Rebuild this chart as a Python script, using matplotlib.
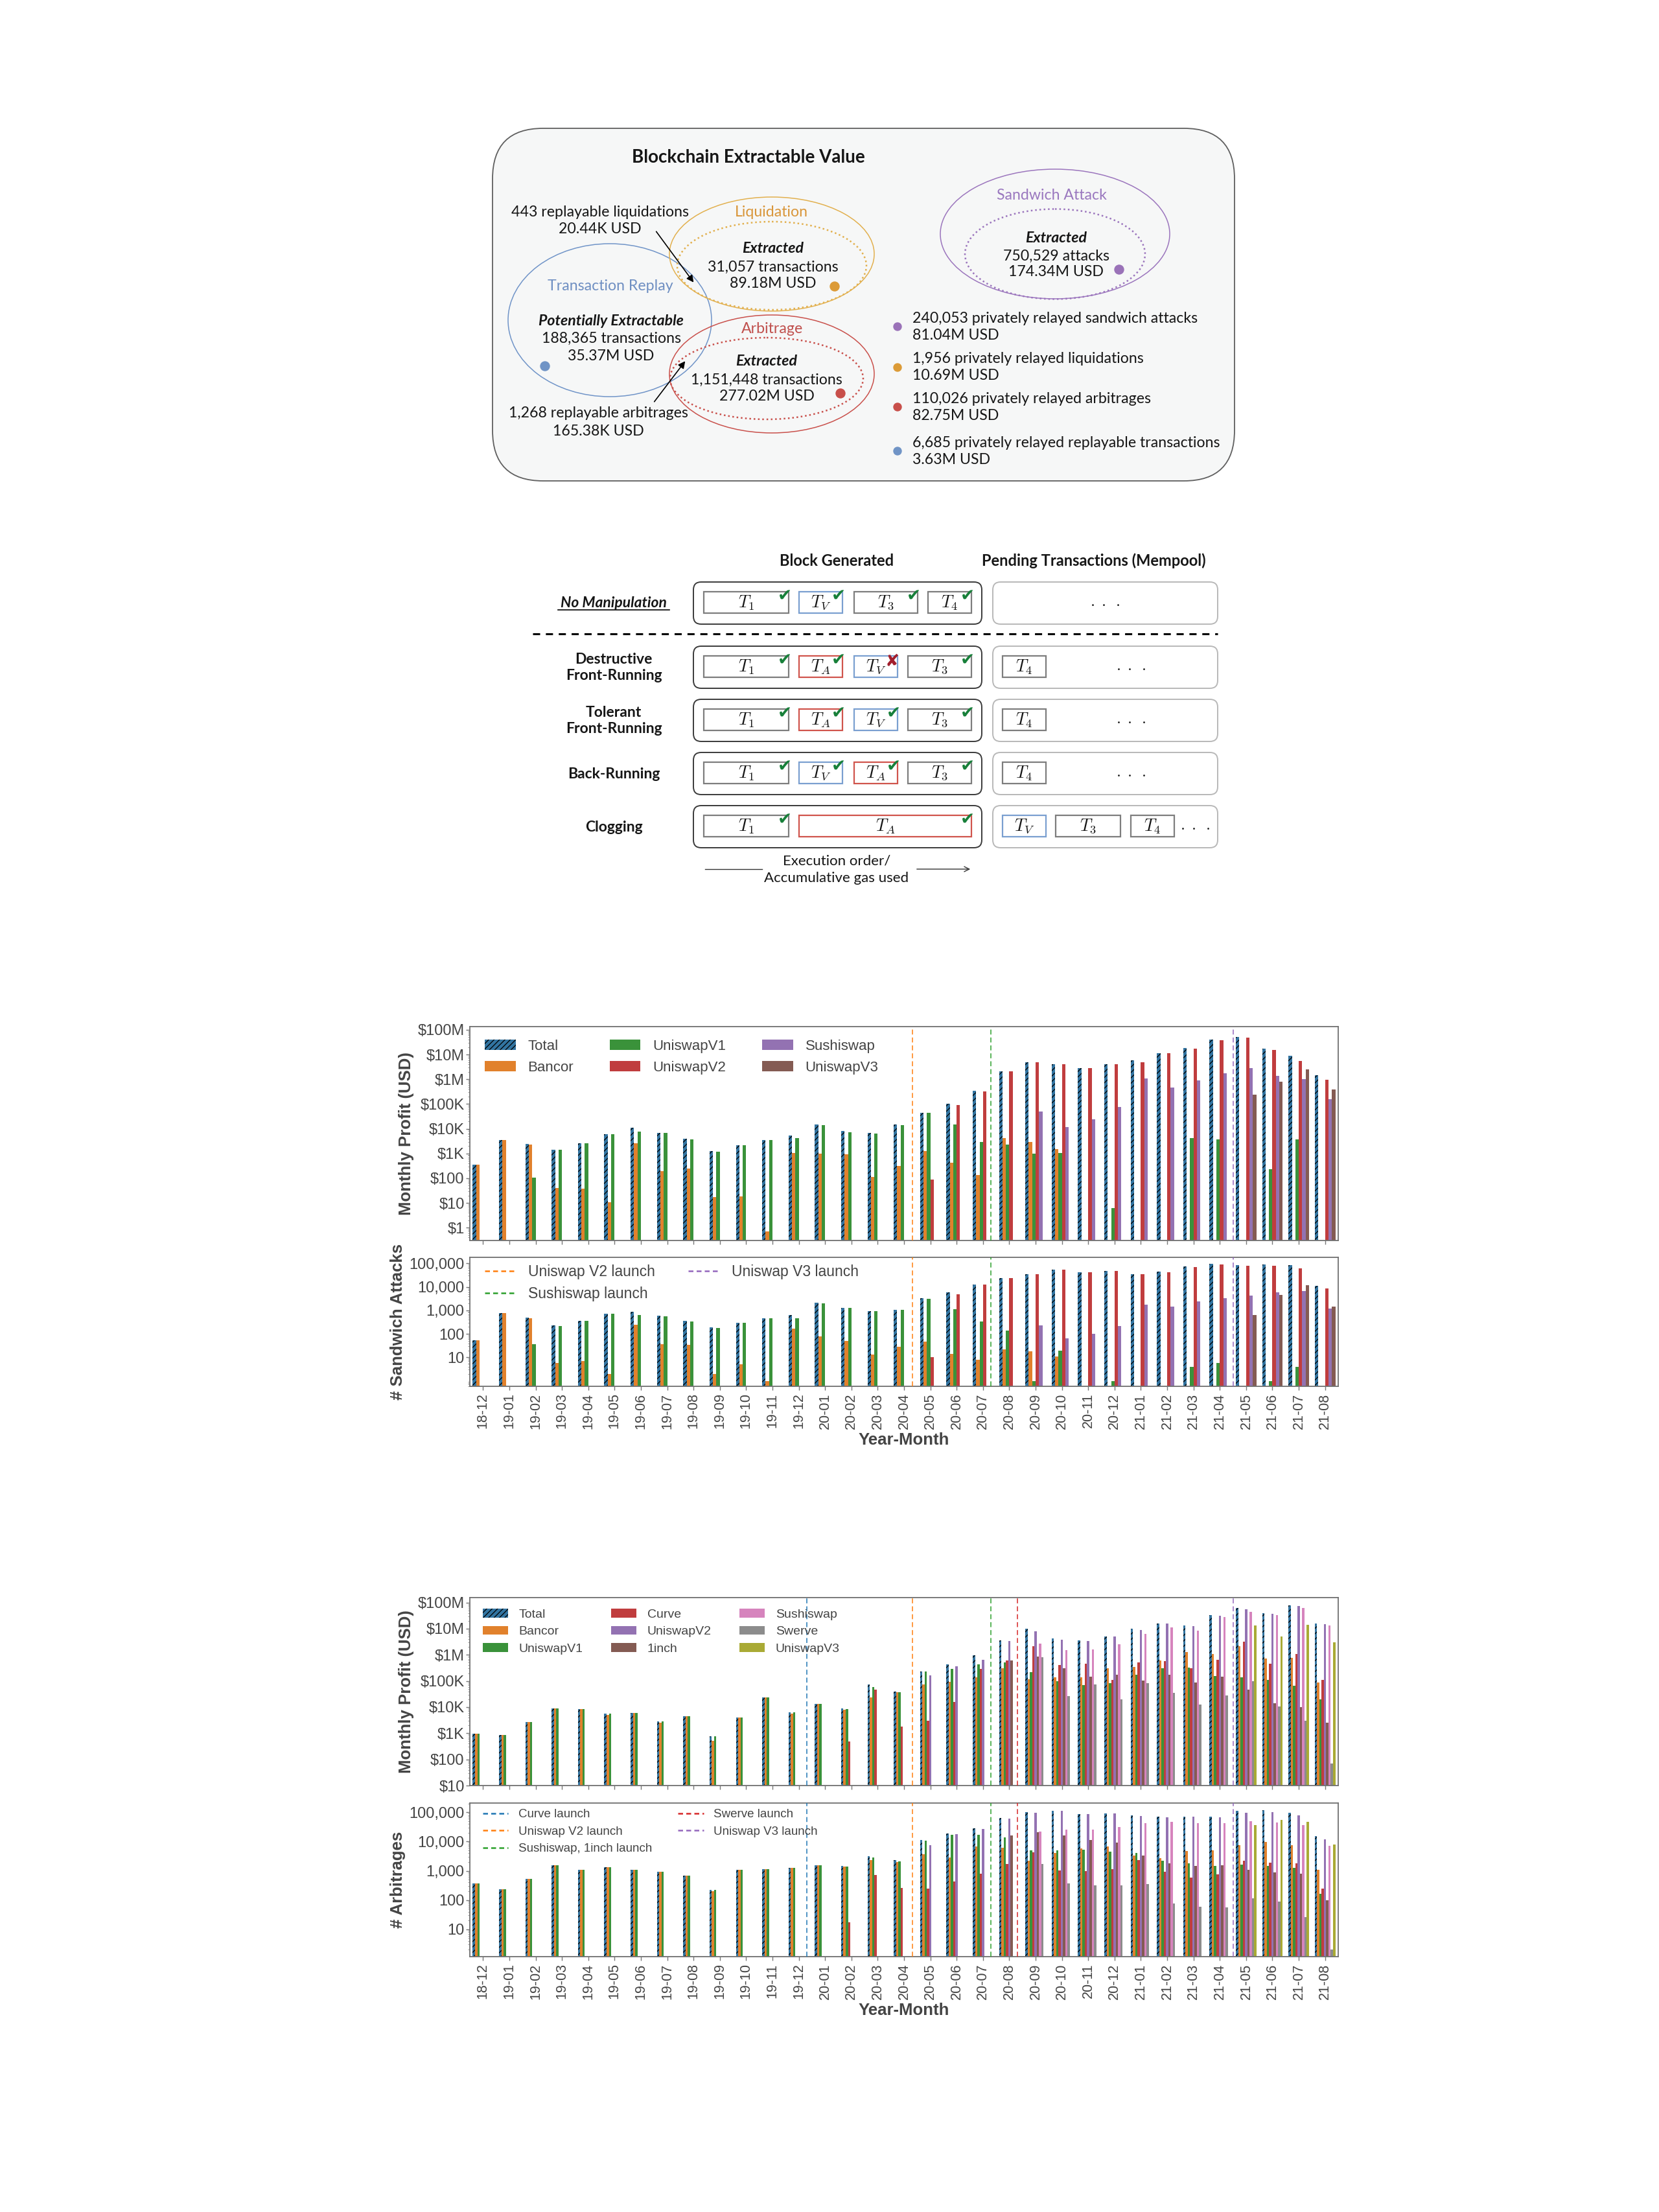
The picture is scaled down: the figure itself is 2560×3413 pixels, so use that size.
import numpy as np
import matplotlib.pyplot as plt
from matplotlib.patches import Ellipse, FancyBboxPatch, Rectangle, Circle
from matplotlib.lines import Line2D
from matplotlib.ticker import LogLocator, NullFormatter

plt.rcParams['font.family'] = 'Liberation Sans'
plt.rcParams['mathtext.fontset'] = 'cm'
plt.rcParams['hatch.linewidth'] = 0.9

nan = np.nan

# ---------------- data ----------------
months = ['18-12', '19-01', '19-02', '19-03', '19-04', '19-05', '19-06', '19-07', '19-08',
          '19-09', '19-10', '19-11', '19-12', '20-01', '20-02', '20-03', '20-04', '20-05',
          '20-06', '20-07', '20-08', '20-09', '20-10', '20-11', '20-12', '21-01', '21-02',
          '21-03', '21-04', '21-05', '21-06', '21-07', '21-08']

# sandwich attacks: monthly profit (USD)
sw_names = ['Total', 'Bancor', 'UniswapV1', 'UniswapV2', 'Sushiswap', 'UniswapV3']
sw_profit_total = [350, 3600, 2400, 1450, 2600, 5900, 10700, 6900, 3900, 1230, 2220, 3570, 5250,
                   14700, 8200, 6700, 14700, 43700, 105000, 340000, 2.14e6, 4.8e6, 4.2e6, 2.9e6,
                   4.2e6, 6.0e6, 11.7e6, 18.7e6, 40e6, 52e6, 17.5e6, 9.1e6, 1.48e6]
sw_profit_bancor = [350, 3600, 2300, 40, 37, 11, 2600, 195, 245, 17, 18, 0.7, 1030, 990, 950, 113,
                    320, 1260, 425, 133, 4150, 3000, 1500] + [nan] * 10
sw_profit_v1 = [nan, nan, 107, 1400, 2600, 5900, 7900, 6700, 3650, 1190, 2150, 3500, 4200, 13800,
                7200, 6600, 14200, 43000, 14700, 3000, 2300, 970, 1070, nan, 6.1, nan, nan, 4300,
                3650, nan, 228, 3650, nan]
sw_profit_v2 = [nan] * 17 + [89, 90000, 330000, 2.1e6, 4.8e6, 4.2e6, 2.9e6, 4.1e6, 5.0e6, 11.1e6,
                             17.7e6, 37e6, 49e6, 15e6, 5.6e6, 930000]
sw_profit_sushi = [nan] * 21 + [49000, 11500, 24000, 78000, 1.07e6, 470000, 910000, 1.8e6, 2.9e6,
                                1.35e6, 1.0e6, 160000]
sw_profit_v3 = [nan] * 29 + [245000, 790000, 2.5e6, 380000]

# sandwich attacks: count
sw_count_total = [53, 750, 500, 235, 365, 740, 890, 580, 370, 185, 295, 470, 620, 2180, 1320, 950,
                  1070, 3250, 6000, 12600, 23400, 34000, 55000, 41500, 49000, 35500, 44000, 72000,
                  93000, 85000, 89000, 82000, 11400]
sw_count_bancor = [53, 750, 450, 6, 7, 2, 240, 37, 34, 2, 5, 1, 163, 78, 49, 13, 28, 48, 14.5, 8,
                   22.5, 18, 11] + [nan] * 10
sw_count_v1 = [nan, nan, 36, 220, 355, 740, 650, 545, 340, 180, 290, 470, 450, 2050, 1280, 950,
               1030, 3050, 1150, 330, 140, 1, 20, nan, 1, nan, nan, 4, 6, nan, 1, 4, nan]
sw_count_v2 = [nan] * 17 + [10, 4900, 12300, 23400, 34000, 55000, 41500, 48000, 34000, 43000,
                            69000, 90000, 80000, 80000, 63000, 8700]
sw_count_sushi = [nan] * 21 + [230, 66, 100, 210, 1800, 1420, 2350, 3250, 4200, 5800, 6600, 1200]
sw_count_v3 = [nan] * 29 + [620, 4600, 11800, 1480]

sw_launch_x = [16.31, 19.30, 28.51]
sw_launch_names = ['Uniswap V2 launch', 'Sushiswap launch', 'Uniswap V3 launch']

# arbitrages: monthly profit (USD)
arb_names = ['Total', 'Bancor', 'UniswapV1', 'Curve', 'UniswapV2', '1inch', 'Sushiswap', 'Swerve',
             'UniswapV3']
arb_profit_total = [940, 850, 2750, 8700, 8200, 5500, 5900, 2900, 4400, 760, 4000, 24000, 6400,
                    13500, 8900, 72000, 39000, 230000, 440000, 960000, 3.6e6, 9.8e6, 4.2e6, 3.5e6,
                    5.0e6, 9.8e6, 16e6, 13e6, 33e6, 61e6, 39e6, 76e6, 16e6]
arb_profit_bancor = [940, 850, 2750, 8700, 8200, 4900, 5900, 2500, 4400, 500, 4000, 24000, 5600,
                     13500, 7900, 24000, 37000, 73000, 91000, 140000, 310000, 117000, 140000,
                     135000, 300000, 350000, 600000, 1.3e6, 1.05e6, 2.1e6, 730000, 760000, 90000]
arb_profit_v1 = [940, 850, 2750, 8700, 8200, 5500, 5900, 2900, 4400, 760, 4000, 24000, 6400,
                 13500, 8400, 58000, 38000, 225000, 290000, 440000, 520000, 220000, 100000, 71000,
                 82000, 175000, 310000, 320000, 155000, 140000, 112000, 66000, 20000]
arb_profit_curve = [nan] * 14 + [480, 46000, 1800, 3000, 16000, 290000, 620000, 2.1e6, 410000,
                                 470000, 112000, 510000, 570000, 310000, 630000, 3.2e6, 460000,
                                 1.07e6, 110000]
arb_profit_univ2 = [nan] * 17 + [160000, 370000, 660000, 3.3e6, 7.8e6, 3.8e6, 3.3e6, 5.0e6, 8.9e6,
                                 15.5e6, 12.3e6, 32e6, 55e6, 37e6, 72e6, 15e6]
arb_profit_1inch = [nan] * 20 + [620000, 870000, 310000, 150000, 170000, 102000, 170000, 87000,
                                 148000, 47000, 14000, 9800, 2600]
arb_profit_sushi = [nan] * 21 + [2.7e6, 1.5e6, 1.6e6, 2.6e6, 6.3e6, 11.2e6, 8.3e6, 27.5e6, 45e6,
                                 34e6, 63e6, 13e6]
arb_profit_swerve = [nan] * 21 + [820000, 27000, 74000, 20000, 83000, 35000, 12600, 27500, 100000,
                                  10700, 3000, 68]
arb_profit_v3 = [nan] * 29 + [13.5e6, 5.1e6, 14e6, 3e6]

# arbitrages: count
arb_count_total = [365, 228, 540, 1510, 1080, 1350, 1060, 910, 700, 220, 1060, 1150, 1280, 1580,
                   1470, 3080, 2300, 11200, 19300, 29000, 63000, 100000, 115000, 89000, 91000,
                   77000, 71000, 72000, 71000, 110000, 120000, 98000, 15500]
arb_count_bancor = [365, 228, 540, 1510, 1080, 1350, 1060, 910, 700, 200, 1060, 1150, 1280, 1580,
                    1400, 2330, 1960, 3700, 2900, 6900, 6100, 2240, 4000, 5900, 6900, 3300, 2700,
                    4700, 5000, 7400, 9500, 7600, 1070]
arb_count_v1 = [365, 228, 540, 1510, 1080, 1350, 1060, 910, 700, 220, 1060, 1150, 1280, 1580,
                1420, 2800, 2100, 10900, 17000, 17000, 13800, 5100, 5000, 5200, 4500, 4100, 2200,
                1780, 1450, 1660, 1480, 1290, 160]
arb_count_curve = [nan] * 14 + [17, 720, 260, 245, 425, 800, 1740, 4300, 1030, 980, 1140, 2300,
                                910, 600, 740, 2190, 1900, 1780, 250]
arb_count_univ2 = [nan] * 17 + [7700, 17500, 27000, 60000, 97000, 110000, 85000, 91000, 74000,
                                69000, 71000, 68000, 98000, 102000, 78000, 12000]
arb_count_1inch = [nan] * 20 + [16300, 21000, 16200, 11500, 9100, 3300, 1780, 1450, 1510, 1100,
                                870, 780, 100]
arb_count_sushi = [nan] * 21 + [22000, 26000, 25000, 31000, 43000, 47000, 42000, 42000, 49000,
                                45000, 37000, 7200]
arb_count_swerve = [nan] * 21 + [1700, 370, 320, 320, 360, 77, 59, 56, 117, 88, 26, 2]
arb_count_v3 = [nan] * 29 + [37000, 54000, 47000, 7800]

arb_launch_x = [12.30, 16.31, 19.30, 20.32, 28.51]
arb_launch_names = ['Curve launch', 'Uniswap V2 launch', 'Sushiswap, 1inch launch',
                    'Swerve launch', 'Uniswap V3 launch']

# ---------------- figure ----------------
fig = plt.figure(figsize=(25.6, 34.13), dpi=100)
W, H = 2560, 3413

bg = fig.add_axes([0, 0, 1, 1])
bg.set_xlim(0, W)
bg.set_ylim(H, 0)
bg.axis('off')

DIA = 'Lato'
INK = '#161616'
FS = 16.7


def say(x, y, s, size=FS, color=INK, weight='normal', style='normal', family=DIA, ha='center'):
    bg.text(x, y, s, fontsize=size, color=color, fontweight=weight, fontstyle=style,
            family=family, ha=ha, va='center')


# --- panel 1: blockchain extractable value ---
bg.add_patch(FancyBboxPatch((760, 198), 1145, 544, boxstyle='round,pad=0,rounding_size=78',
                            facecolor='#f6f7f7', edgecolor='#5f5f5f', lw=1.3))
say(1155, 243, 'Blockchain Extractable Value', size=20, weight='bold')

C_LIQ, C_REP, C_ARB, C_SW = '#e2b04e', '#7094c8', '#c9504b', '#9b75bd'
for cx, cy, w, h, c, ls in [(941, 494, 314, 236, C_REP, '-'),
                            (1191, 392, 316, 176, C_LIQ, '-'),
                            (1191, 410, 292, 136, C_LIQ, ':'),
                            (1191, 577, 316, 182, C_ARB, '-'),
                            (1183, 584, 298, 126, C_ARB, ':'),
                            (1628, 361, 354, 200, C_SW, '-'),
                            (1628, 392, 278, 139, C_SW, ':')]:
    bg.add_patch(Ellipse((cx, cy), w, h, fill=False, edgecolor=c, ls=ls,
                         lw=1.1 if ls == '-' else 1.8))

say(926, 327, '443 replayable liquidations')
say(926, 353, '20.44K USD')
say(1190, 327, 'Liquidation', color='#d9963a')
say(1193, 384, 'Extracted', weight='bold', style='italic')
say(1193, 412, '31,057 transactions')
say(1193, 438, '89.18M USD')
say(942, 442, 'Transaction Replay', color='#6f8fc2')
say(943, 495, 'Potentially Extractable', weight='bold', style='italic')
say(943, 522, '188,365 transactions')
say(943, 549, '35.37M USD')
say(1192, 507, 'Arbitrage', color='#c0504d')
say(1183, 557, 'Extracted', weight='bold', style='italic')
say(1183, 586, '1,151,448 transactions')
say(1183, 612, '277.02M USD')
say(923, 638, '1,268 replayable arbitrages')
say(923, 665, '165.38K USD')
say(1623, 301, 'Sandwich Attack', color='#9a78bf')
say(1630, 367, 'Extracted', weight='bold', style='italic')
say(1630, 395, '750,529 attacks')
say(1630, 420, '174.34M USD')

bg.annotate('', xy=(1072, 438), xytext=(1011, 355),
            arrowprops=dict(arrowstyle='-|>', color='black', lw=1.2, mutation_scale=16))
bg.annotate('', xy=(1059, 555), xytext=(1008, 622),
            arrowprops=dict(arrowstyle='-|>', color='black', lw=1.2, mutation_scale=16))

D_ORA, D_BLU, D_RED, D_PUR = '#dc9b37', '#7094c6', '#c84f4a', '#9a72b8'
for x, y, c in [(1288, 442, D_ORA), (841, 565, D_BLU), (1297, 607, D_RED), (1727, 416, D_PUR)]:
    bg.add_patch(Circle((x, y), 7, color=c))

notes = [('240,053 privately relayed sandwich attacks', '81.04M USD', 491, D_PUR),
         ('1,956 privately relayed liquidations', '10.69M USD', 554, D_ORA),
         ('110,026 privately relayed arbitrages', '82.75M USD', 615, D_RED),
         ('6,685 privately relayed replayable transactions', '3.63M USD', 683, D_BLU)]
for l1, l2, y, c in notes:
    say(1408, y, l1, ha='left')
    say(1408, y + 26, l2, ha='left')
    bg.add_patch(Circle((1385, y + 13), 6, color=c))

# --- panel 2: transaction ordering ---
say(1291, 865, 'Block Generated', size=17, weight='bold')
say(1688, 865, 'Pending Transactions (Mempool)', size=17, weight='bold')

row_tops = [898, 997, 1079, 1161, 1243]
row_names = ['No Manipulation', 'Destructive\nFront-Running', 'Tolerant\nFront-Running',
             'Back-Running', 'Clogging']
EDGE = {'k': '#7d7d7d', 'b': '#7a9fd0', 'r': '#d0544c'}
blocks = [
    [('1', 1086, 1217, 'k', 1), ('V', 1233, 1300, 'b', 1), ('3', 1318, 1416, 'k', 1), ('4', 1432, 1499, 'k', 1)],
    [('1', 1086, 1217, 'k', 1), ('A', 1233, 1300, 'r', 1), ('V', 1318, 1385, 'b', 0), ('3', 1401, 1499, 'k', 1)],
    [('1', 1086, 1217, 'k', 1), ('A', 1233, 1300, 'r', 1), ('V', 1318, 1385, 'b', 1), ('3', 1401, 1499, 'k', 1)],
    [('1', 1086, 1217, 'k', 1), ('V', 1233, 1300, 'b', 1), ('A', 1318, 1385, 'r', 1), ('3', 1401, 1499, 'k', 1)],
    [('1', 1086, 1217, 'k', 1), ('A', 1233, 1499, 'r', 1)],
]
pools = [[],
         [('4', 1547, 1614, 'k', None)],
         [('4', 1547, 1614, 'k', None)],
         [('4', 1547, 1614, 'k', None)],
         [('V', 1547, 1614, 'b', None), ('3', 1629, 1729, 'k', None), ('4', 1745, 1812, 'k', None)]]
pool_dots = [1705, 1745, 1745, 1745, 1844]

for top, name, blk, pool, dx in zip(row_tops, row_names, blocks, pools, pool_dots):
    bg.add_patch(FancyBboxPatch((1070, top), 445, 65, boxstyle='round,pad=0,rounding_size=12',
                                facecolor='white', edgecolor='#3a3a3a', lw=1.4))
    bg.add_patch(FancyBboxPatch((1532, top), 347, 65, boxstyle='round,pad=0,rounding_size=12',
                                facecolor='white', edgecolor='#b8b8b8', lw=1.4))
    if name == 'No Manipulation':
        say(947, top + 32, name, size=16.5, weight='bold', style='italic')
        bg.plot([861, 1033], [top + 43, top + 43], color='black', lw=1.2)
    else:
        bg.text(947, top + 33, name, fontsize=16.5, fontweight='bold', family=DIA, color=INK,
                ha='center', va='center', linespacing=1.25)
    for sub, x0, x1, c, ok in blk + pool:
        y0 = top + 15
        bg.add_patch(Rectangle((x0, y0), x1 - x0, 33, facecolor='white', edgecolor=EDGE[c], lw=1.6))
        bg.text((x0 + x1) / 2, y0 + 17, r'$T_{%s}$' % sub, fontsize=19, ha='center', va='center',
                color=INK)
        if ok == 1:
            say(x1 - 6, y0 + 8, '\u2714', size=19, color='#18803a', family='DejaVu Sans')
        elif ok == 0:
            say(x1 - 8, y0 + 9, '\u2718', size=19, color='#a21f2d', family='DejaVu Sans')
    bg.text(dx, top + 33, r'$\cdot\;\cdot\;\cdot$', fontsize=18, ha='center', va='center',
            color=INK)

bg.plot([822, 1879], [978, 978], color='black', lw=2.2, dashes=(3.6, 2.9))
say(1291, 1328, 'Execution order/', size=16)
say(1291, 1355, 'Accumulative gas used', size=16)
bg.plot([1088, 1176], [1341, 1341], color='#333333', lw=1)
bg.annotate('', xy=(1500, 1341), xytext=(1412, 1341),
            arrowprops=dict(arrowstyle='->', color='#333333', lw=1, mutation_scale=14))

# ---------------- charts ----------------
GREY = '#444444'
BAR_C = ['#3274a1', '#e1812c', '#3a923a', '#c03d3e', '#9372b2', '#845b53', '#d684bd', '#8c8c8c',
         '#a9aa35']
LINE_C = {'Curve launch': '#1f77b4', 'Uniswap V2 launch': '#ff7f0e', 'Sushiswap launch': '#2ca02c',
          'Sushiswap, 1inch launch': '#2ca02c', 'Swerve launch': '#d62728',
          'Uniswap V3 launch': '#9467bd'}
profit_ticks = [1, 10, 100, 1e3, 1e4, 1e5, 1e6, 1e7, 1e8]
profit_labels = ['\\$1', '\\$10', '\\$100', '\\$1K', '\\$10K', '\\$100K', '\\$1M', '\\$10M', '\\$100M']
count_ticks = [10, 100, 1e3, 1e4, 1e5]
count_labels = ['10', '100', '1,000', '10,000', '100,000']


def px_axes(left, top, right, bottom):
    return fig.add_axes([left / W, 1 - bottom / H, (right - left) / W, (bottom - top) / H])


def bars(ax, series, names):
    x = np.arange(len(months))
    w = 0.78 / len(series)
    for i, (vals, name) in enumerate(zip(series, names)):
        v = np.asarray(vals, dtype=float)
        m = ~np.isnan(v)
        pos = x[m] - 0.39 + w * (i + 0.5)
        if i == 0:
            ax.bar(pos, v[m], w, color=BAR_C[i], edgecolor='black', hatch='////', linewidth=0,
                   label=name)
        else:
            ax.bar(pos, v[m], w, color=BAR_C[i], linewidth=0, label=name)


def style(ax, ticks, labels, ylim, ylabel, launch_x, launch_names, show_x):
    ax.set_yscale('log')
    ax.set_xlim(-0.5, len(months) - 0.5)
    ax.set_ylim(*ylim)
    ax.set_yticks(ticks, labels)
    ax.yaxis.set_minor_locator(LogLocator(base=10, subs=np.arange(2, 10), numticks=100))
    ax.yaxis.set_minor_formatter(NullFormatter())
    ax.set_xticks(np.arange(len(months)))
    if show_x:
        ax.set_xticklabels(months, rotation=90)
        ax.set_xlabel('Year-Month', fontsize=18.5, fontweight='bold', color=GREY)
    else:
        ax.set_xticklabels([])
    for s in ax.spines.values():
        s.set_color('#707070')
        s.set_linewidth(1.3)
    ax.tick_params(axis='y', which='major', length=4, width=1, color='#777777', labelsize=17,
                   labelcolor=GREY, pad=2)
    ax.tick_params(axis='y', which='minor', length=2.5, width=0.7, color='#999999')
    ax.tick_params(axis='x', length=4.5, width=1, color='#777777', labelsize=15.5,
                   labelcolor=GREY, pad=3)
    ax.set_ylabel(ylabel, fontsize=18.5, fontweight='bold', color=GREY)
    for lx, ln in zip(launch_x, launch_names):
        ax.axvline(lx, color=LINE_C[ln], lw=1.1, ls=(0, (5, 3)), zorder=3)


def launch_legend(ax, names, size, anchor, hl, cs, ls):
    handles = [Line2D([], [], color=LINE_C[n], lw=1.8, ls=(0, (3, 2))) for n in names]
    ax.legend(handles, names, loc='upper left', bbox_to_anchor=anchor, ncol=2, frameon=False,
              fontsize=size, handlelength=hl, handletextpad=0.85, columnspacing=cs,
              labelspacing=ls, borderpad=0, borderaxespad=0, labelcolor=GREY)


# sandwich attacks
ax1 = px_axes(725, 1584, 2065, 1914)
bars(ax1, [sw_profit_total, sw_profit_bancor, sw_profit_v1, sw_profit_v2, sw_profit_sushi,
           sw_profit_v3], sw_names)
style(ax1, profit_ticks, profit_labels, (10 ** -0.517, 10 ** 8.13), 'Monthly Profit (USD)',
      sw_launch_x, sw_launch_names, False)
ax1.legend(loc='upper left', bbox_to_anchor=(0.017, 0.94), ncol=3, frameon=False, fontsize=16,
           handlelength=2.15, handleheight=0.72, handletextpad=0.85, columnspacing=2.5,
           labelspacing=0.55, borderpad=0, borderaxespad=0, labelcolor=GREY)

ax2 = px_axes(725, 1940, 2065, 2139)
bars(ax2, [sw_count_total, sw_count_bancor, sw_count_v1, sw_count_v2, sw_count_sushi,
           sw_count_v3], sw_names)
style(ax2, count_ticks, count_labels, (0.594, 10 ** 5.256), '# Sandwich Attacks',
      sw_launch_x, sw_launch_names, True)
launch_legend(ax2, sw_launch_names, 16.5, (0.017, 0.945), 2.1, 2.2, 0.5)

# arbitrages
ax3 = px_axes(725, 2465, 2065, 2755)
bars(ax3, [arb_profit_total, arb_profit_bancor, arb_profit_v1, arb_profit_curve, arb_profit_univ2,
           arb_profit_1inch, arb_profit_sushi, arb_profit_swerve, arb_profit_v3], arb_names)
style(ax3, profit_ticks[1:], profit_labels[1:], (10, 10 ** 8.19), 'Monthly Profit (USD)',
      arb_launch_x, arb_launch_names, False)
ax3.legend(loc='upper left', bbox_to_anchor=(0.015, 0.941), ncol=3, frameon=False, fontsize=14,
           handlelength=2.0, handleheight=0.72, handletextpad=0.85, columnspacing=2.25,
           labelspacing=0.45, borderpad=0, borderaxespad=0, labelcolor=GREY)

ax4 = px_axes(725, 2782, 2065, 3019)
bars(ax4, [arb_count_total, arb_count_bancor, arb_count_v1, arb_count_curve, arb_count_univ2,
           arb_count_1inch, arb_count_sushi, arb_count_swerve, arb_count_v3], arb_names)
style(ax4, count_ticks, count_labels, (1.16, 10 ** 5.316), '# Arbitrages',
      arb_launch_x, arb_launch_names, True)
launch_legend(ax4, arb_launch_names, 13.5, (0.015, 0.961), 2.1, 2.1, 0.5)

fig.savefig('out.png', dpi=100)
